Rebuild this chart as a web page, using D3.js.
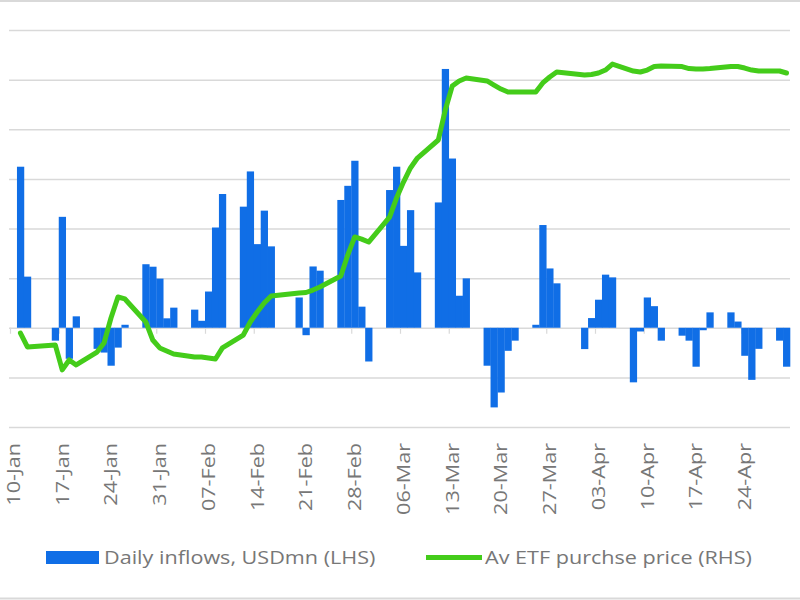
<!DOCTYPE html>
<html>
<head>
<meta charset="utf-8">
<script src="https://cdn.jsdelivr.net/npm/d3@7"></script>
<style>
  html, body { margin: 0; padding: 0; background: #fff; }
  svg { display: block; }
  text { font-family: "Open Sans", "Noto Sans", sans-serif; }
</style>
</head>
<body>
<svg id="chart" width="800" height="600"></svg>
<script>
// ---- DATA ----
const dates = [
  "2024-01-11","2024-01-12",
  "2024-01-16","2024-01-17","2024-01-18","2024-01-19",
  "2024-01-22","2024-01-23","2024-01-24","2024-01-25","2024-01-26",
  "2024-01-29","2024-01-30","2024-01-31","2024-02-01","2024-02-02",
  "2024-02-05","2024-02-06","2024-02-07","2024-02-08","2024-02-09",
  "2024-02-12","2024-02-13","2024-02-14","2024-02-15","2024-02-16",
  "2024-02-20","2024-02-21","2024-02-22","2024-02-23",
  "2024-02-26","2024-02-27","2024-02-28","2024-02-29","2024-03-01",
  "2024-03-04","2024-03-05","2024-03-06","2024-03-07","2024-03-08",
  "2024-03-11","2024-03-12","2024-03-13","2024-03-14","2024-03-15",
  "2024-03-18","2024-03-19","2024-03-20","2024-03-21","2024-03-22",
  "2024-03-25","2024-03-26","2024-03-27","2024-03-28",
  "2024-04-01","2024-04-02","2024-04-03","2024-04-04","2024-04-05",
  "2024-04-08","2024-04-09","2024-04-10","2024-04-11","2024-04-12",
  "2024-04-15","2024-04-16","2024-04-17","2024-04-18","2024-04-19",
  "2024-04-22","2024-04-23","2024-04-24","2024-04-25","2024-04-26",
  "2024-04-29","2024-04-30"
];
const dailyInflows = [
  649, 206,
  -52, 447, -125, 46,
  -85, -100, -153, -80, 12,
  256, 246, 198, 38, 81,
  73, 28, 146, 404, 539,
  488, 630, 337, 472, 328,
  122, -30, 247, 230,
  515, 572, 673, 85, -136,
  555, 649, 330, 474, 223,
  505, 1043, 682, 129, 199,
  -153, -321, -261, -93, -52,
  12, 414, 239, 179,
  -86, 39, 113, 214, 203,
  -220, -15, 122, 87, -52,
  -32, -52, -157, -10, 62,
  62, 25, -113, -210, -85,
  -52, -157
];
const avgPrice = [
  41680, 40840,
  40960, 39450, 40050, 39750,
  40530, 41080, 42590, 43860, 43740,
  42350, 41260, 40780, 40590, 40410,
  40230, 40230, 40170, 40110, 40780,
  41560, 42350, 42950, 43500, 43920,
  44100, 44130, 44280, 44460,
  45130, 46400, 47490, 47360, 47180,
  48690, 49840, 50810, 51660, 52260,
  53350, 55160, 56610, 56920, 57100,
  56920, 56670, 56430, 56250, 56250,
  56250, 56800, 57160, 57460,
  57280, 57310, 57400, 57580, 57940,
  57520, 57460, 57580, 57790, 57820,
  57790, 57670, 57640, 57640, 57670,
  57790, 57790, 57700, 57580, 57520,
  57520, 57400
];
const tickDates = [
  "2024-01-10","2024-01-17","2024-01-24","2024-01-31","2024-02-07","2024-02-14",
  "2024-02-21","2024-02-28","2024-03-06","2024-03-13","2024-03-20","2024-03-27",
  "2024-04-03","2024-04-10","2024-04-17","2024-04-24"
];
const tickLabels = [
  "10-Jan","17-Jan","24-Jan","31-Jan","07-Feb","14-Feb","21-Feb","28-Feb",
  "06-Mar","13-Mar","20-Mar","27-Mar","03-Apr","10-Apr","17-Apr","24-Apr"
];
const axisStart = "2024-01-10";
const axisEnd = "2024-05-01";
const lhsDomain = [-400, 1200];
const lhsTicks = [-400, -200, 0, 200, 400, 600, 800, 1000, 1200];
const rhsDomain = [36000, 60000];
const seriesNames = ["Daily inflows, USDmn (LHS)", "Av ETF purchse price (RHS)"];

// ---- CHART ----
const parse = d3.utcParse("%Y-%m-%d");
const svg = d3.select("#chart");
const W = 800, H = 600;
const plot = { left: 10, right: 790, top: 30, bottom: 427 };
const BLUE = "#106ee6", GREEN = "#44cc1a", GRID = "#d9d9d9", LABEL = "#777777";

const x = d3.scaleUtc().domain([parse(axisStart), parse(axisEnd)]).range([plot.left, plot.right]);
const yL = d3.scaleLinear().domain(lhsDomain).range([plot.bottom, plot.top]);
const yR = d3.scaleLinear().domain(rhsDomain).range([plot.bottom, plot.top]);
const day = d => d3.utcDay.offset(d, 1);
const mid = d => (x(d) + x(day(d))) / 2;

// outer border lines
svg.append("line").attr("x1", 0).attr("x2", W).attr("y1", 1).attr("y2", 1)
  .attr("stroke", GRID).attr("stroke-width", 2);
svg.append("line").attr("x1", 0).attr("x2", W).attr("y1", 598.5).attr("y2", 598.5)
  .attr("stroke", GRID).attr("stroke-width", 2);

// gridlines
const grid = svg.append("g")
  .attr("transform", `translate(${plot.left - 1},0)`)
  .call(d3.axisLeft(yL).tickValues(lhsTicks).tickSize(-(plot.right - plot.left + 1)).tickFormat(""));
grid.select(".domain").remove();
grid.selectAll(".tick line").attr("stroke", GRID).attr("stroke-width", 1.5);

// weekly tick marks under zero line
const xAxis = svg.append("g")
  .attr("transform", `translate(0,${yL(0)})`)
  .call(d3.axisBottom(x).tickValues(tickDates.map(parse)).tickSize(6).tickFormat(""));
xAxis.select(".domain").remove();
xAxis.selectAll(".tick line").attr("stroke", GRID).attr("stroke-width", 1.2);

// bars
const barData = dates.map((d, i) => ({ date: parse(d), v: dailyInflows[i] }));
svg.append("g").selectAll("rect").data(barData).enter().append("rect")
  .attr("x", d => x(d.date))
  .attr("width", d => x(day(d.date)) - x(d.date) + 0.3)
  .attr("y", d => Math.min(yL(d.v), yL(0)))
  .attr("height", d => Math.abs(yL(d.v) - yL(0)))
  .attr("fill", BLUE);

// line
const lineData = dates.map((d, i) => ({ date: parse(d), v: avgPrice[i] }));
svg.append("path").datum(lineData)
  .attr("d", d3.line().x(d => mid(d.date)).y(d => yR(d.v)))
  .attr("fill", "none").attr("stroke", GREEN).attr("stroke-width", 5)
  .attr("stroke-linejoin", "round").attr("stroke-linecap", "round");

// x labels (rotated)
svg.append("g").selectAll("text").data(tickDates).enter().append("text")
  .attr("transform", d => `translate(${mid(parse(d))},443) rotate(-90) scale(1.2,1)`)
  .attr("dy", "0.36em")
  .attr("text-anchor", "end")
  .attr("font-size", 18)
  .attr("fill", LABEL)
  .text((d, i) => tickLabels[i]);

// legend
const lg = svg.append("g");
lg.append("rect").attr("x", 46).attr("y", 551).attr("width", 53).attr("height", 13).attr("fill", BLUE);
lg.append("text").attr("transform", "translate(104,564) scale(1.2,1)")
  .attr("font-size", 18).attr("fill", LABEL).text(seriesNames[0]);
lg.append("line").attr("x1", 426).attr("x2", 482).attr("y1", 557.5).attr("y2", 557.5)
  .attr("stroke", GREEN).attr("stroke-width", 5);
lg.append("text").attr("transform", "translate(485,564) scale(1.2,1)")
  .attr("font-size", 18).attr("fill", LABEL).text(seriesNames[1]);
</script>
</body>
</html>
